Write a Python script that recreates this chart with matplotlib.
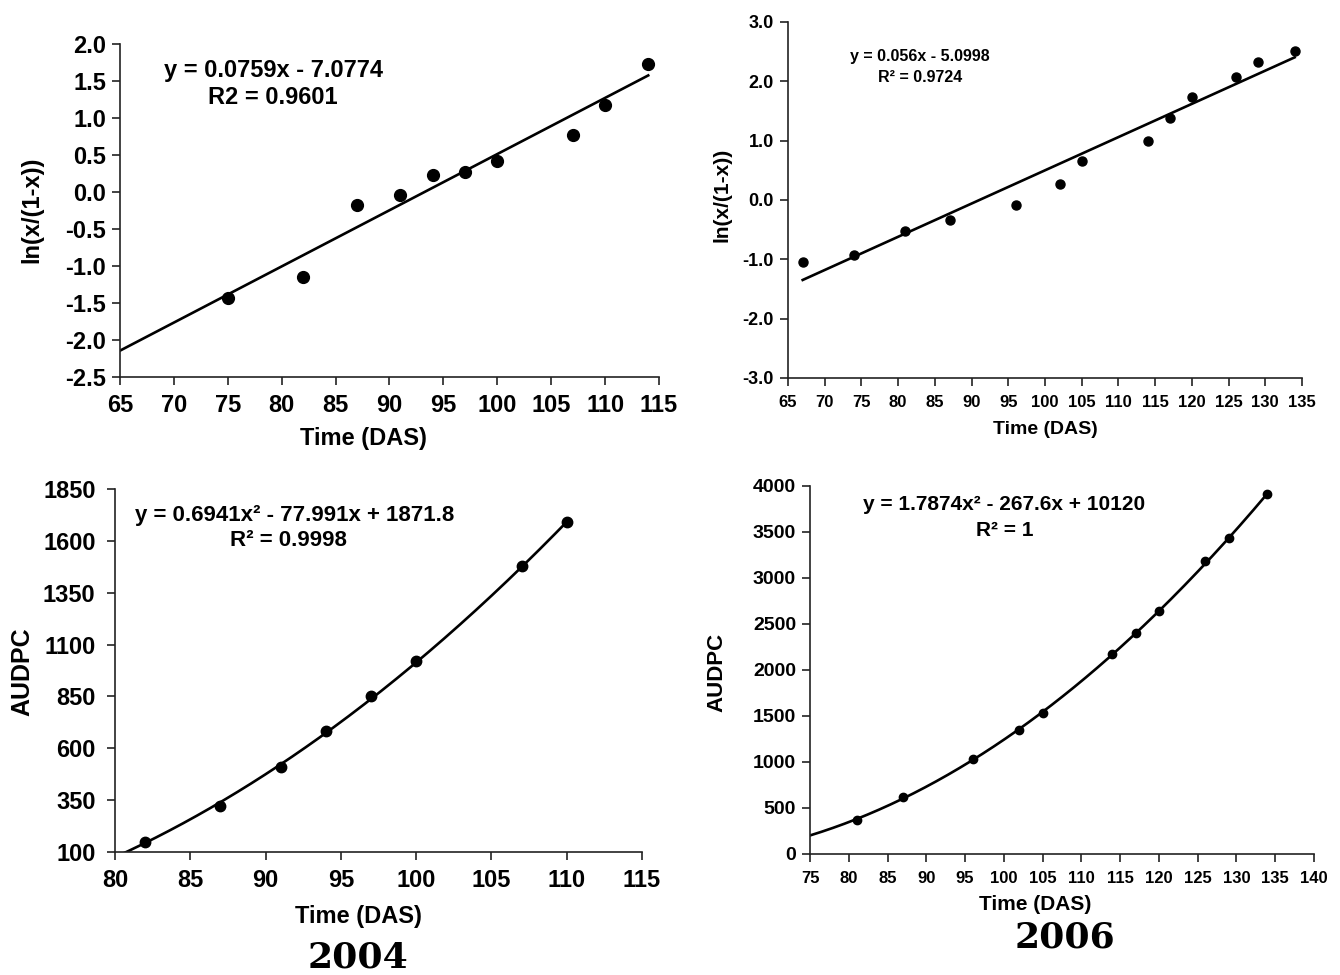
import numpy as np
import matplotlib
matplotlib.use("Agg")
import matplotlib.pyplot as plt

# 2004 logit data
t04_logit = [75, 82, 87, 91, 94, 97, 100, 107, 110, 114]
y04_logit = [-1.43, -1.15, -0.17, -0.04, 0.23, 0.27, 0.42, 0.77, 1.18, 1.73]
# 2006 logit data
t06_logit = [67, 74, 81, 87, 96, 102, 105, 114, 117, 120, 126, 129, 134]
y06_logit = [-1.05, -0.93, -0.52, -0.33, -0.08, 0.27, 0.65, 1.0, 1.38, 1.73, 2.07, 2.33, 2.51]
# 2004 AUDPC
t04_aud = [82, 87, 91, 94, 97, 100, 107, 110]
y04_aud = [150, 320, 510, 685, 850, 1020, 1480, 1690]
# 2006 AUDPC
t06_aud = [81, 87, 96, 102, 105, 114, 117, 120, 126, 129, 134]
y06_aud = [370, 620, 1030, 1350, 1530, 2170, 2400, 2640, 3180, 3430, 3910]

W, H = 1340, 975
fig = plt.figure(figsize=(W / 100, H / 100), dpi=100)
SANS = "Liberation Sans"
SERIF = "DejaVu Serif"


def axes_px(left, top, right, bottom):
    return fig.add_axes([left / W, 1 - bottom / H, (right - left) / W, (bottom - top) / H])


def ftext(x, y, s, size, **kw):
    kw.setdefault("family", SANS)
    kw.setdefault("weight", "bold")
    fig.text(x / W, 1 - y / H, s, fontsize=size, ha="center", va="center", **kw)


def style(ax, xsize, ysize, ypad=4):
    for s in ["top", "right"]:
        ax.spines[s].set_visible(False)
    for s in ["left", "bottom"]:
        ax.spines[s].set_linewidth(1.2)
        ax.spines[s].set_color("#222222")
    ax.tick_params(direction="out", length=6, width=1.2, color="#222222")
    ax.tick_params(axis="x", labelsize=xsize, pad=6)
    ax.tick_params(axis="y", labelsize=ysize, pad=ypad)
    for lab in ax.get_xticklabels() + ax.get_yticklabels():
        lab.set_family(SANS)
        lab.set_fontweight("bold")


# top-left: 2004 logit
ax1 = axes_px(120, 44, 659, 377)
ax1.plot(t04_logit, y04_logit, "o", color="black", ms=8.5)
xl = np.array([65, 114])
ax1.plot(xl, 0.0759 * xl - 7.0774, color="black", lw=1.9)
ax1.set_xlim(65, 115)
ax1.set_ylim(-2.5, 2.0)
ax1.set_xticks(np.arange(65, 116, 5))
ax1.set_yticks(np.arange(-2.5, 2.01, 0.5))
ax1.yaxis.set_major_formatter(matplotlib.ticker.FormatStrFormatter("%.1f"))
style(ax1, 17, 17)
ftext(273, 70, "y = 0.0759x - 7.0774", 17)
ftext(273, 97, "R2 = 0.9601", 17)
ftext(32, 210, "ln(x/(1-x))", 17, rotation=90)
ftext(363, 438, "Time (DAS)", 17)

# top-right: 2006 logit
ax2 = axes_px(788, 22, 1302, 378)
ax2.plot(t06_logit, y06_logit, "o", color="black", ms=6.5)
xl = np.array([67, 134])
ax2.plot(xl, 0.056 * xl - 5.0998, color="black", lw=1.9)
ax2.set_xlim(65, 135)
ax2.set_ylim(-3.0, 3.0)
ax2.set_xticks(np.arange(65, 136, 5))
ax2.set_yticks(np.arange(-3.0, 3.01, 1.0))
ax2.yaxis.set_major_formatter(matplotlib.ticker.FormatStrFormatter("%.1f"))
style(ax2, 12, 13)
ftext(920, 56, "y = 0.056x - 5.0998", 11.5)
ftext(920, 77, "R² = 0.9724", 11.5)
ftext(722, 195, "ln(x/(1-x))", 15, rotation=90)
ftext(1045, 430, "Time (DAS)", 14)

# bottom-left: 2004 AUDPC
ax3 = axes_px(115, 489, 642, 852)
ax3.plot(t04_aud, y04_aud, "o", color="black", ms=7.5)
c04 = [0.6941, -77.991, 1871.8]
xc = np.linspace(80, 110, 200)
ax3.plot(xc, np.polyval(c04, xc), color="black", lw=1.9)
ax3.set_xlim(80, 115)
ax3.set_ylim(100, 1850)
ax3.set_xticks(np.arange(80, 116, 5))
ax3.set_yticks(np.arange(100, 1851, 250))
style(ax3, 17, 17, ypad=8)
ftext(295, 515, "y = 0.6941x² - 77.991x + 1871.8", 16)
ftext(288, 541, "R² = 0.9998", 16)
ftext(22, 672, "AUDPC", 18, rotation=90)
ftext(358, 917, "Time (DAS)", 17)
ftext(358, 957, "2004", 26, family=SERIF)

# bottom-right: 2006 AUDPC
ax4 = axes_px(810, 486, 1314, 854)
ax4.plot(t06_aud, y06_aud, "o", color="black", ms=6)
c06 = np.polyfit(t06_aud, y06_aud, 2)
xc = np.linspace(75, 134, 200)
ax4.plot(xc, np.polyval(c06, xc), color="black", lw=1.9)
ax4.set_xlim(75, 140)
ax4.set_ylim(0, 4000)
ax4.set_xticks(np.arange(75, 141, 5))
ax4.set_yticks(np.arange(0, 4001, 500))
style(ax4, 12, 14)
ftext(1004, 505, "y = 1.7874x² - 267.6x + 10120", 15)
ftext(1005, 530, "R² = 1", 15)
ftext(717, 672, "AUDPC", 16, rotation=90)
ftext(1035, 905, "Time (DAS)", 15)
ftext(1065, 937, "2006", 26, family=SERIF)

fig.savefig("out.png", dpi=100)
